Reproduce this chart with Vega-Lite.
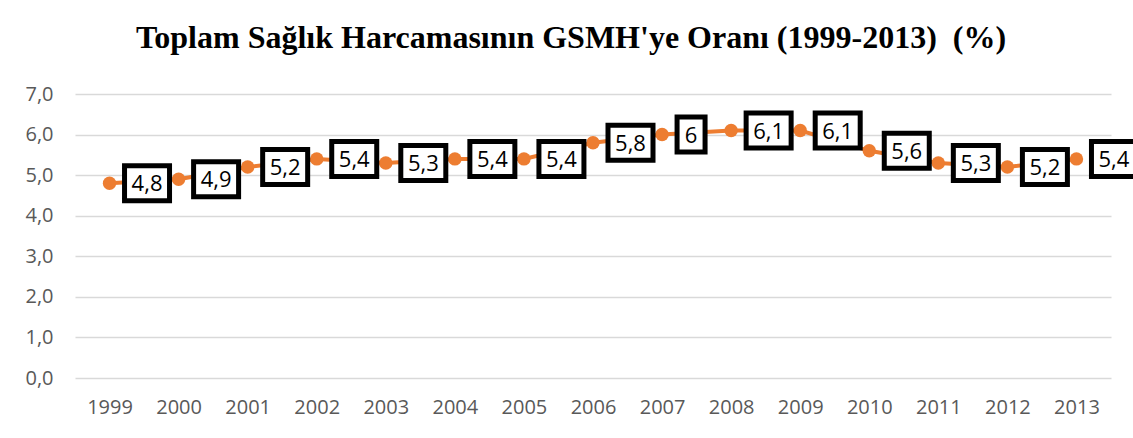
{
  "$schema": "https://vega.github.io/schema/vega-lite/v6.json",
  "width": 1036,
  "height": 284,
  "autosize": {"type": "none"},
  "padding": {"left": 75, "top": 94, "right": 22, "bottom": 60},
  "background": "white",
  "config": {
    "view": {"stroke": null},
    "locale": {"number": {"decimal": ",", "thousands": ".", "grouping": [3], "currency": ["", ""]}}
  },
  "title": {
    "text": "Toplam Sağlık Harcamasının GSMH'ye Oranı (1999-2013)\u00a0 (%)",
    "font": "Liberation Serif",
    "fontSize": 32,
    "fontWeight": "bold",
    "color": "#000000",
    "anchor": "middle",
    "frame": "group",
    "baseline": "alphabetic",
    "dx": -22,
    "offset": 4
  },
  "data": {
    "values": [
      {"year": "1999", "value": 4.8},
      {"year": "2000", "value": 4.9},
      {"year": "2001", "value": 5.2},
      {"year": "2002", "value": 5.4},
      {"year": "2003", "value": 5.3},
      {"year": "2004", "value": 5.4},
      {"year": "2005", "value": 5.4},
      {"year": "2006", "value": 5.8},
      {"year": "2007", "value": 6.0},
      {"year": "2008", "value": 6.1},
      {"year": "2009", "value": 6.1},
      {"year": "2010", "value": 5.6},
      {"year": "2011", "value": 5.3},
      {"year": "2012", "value": 5.2},
      {"year": "2013", "value": 5.4}
    ]
  },
  "encoding": {
    "x": {
      "field": "year",
      "type": "ordinal",
      "scale": {"type": "point", "padding": 0.5},
      "axis": {
        "title": null,
        "labelAngle": 0,
        "domain": false,
        "ticks": false,
        "labelFont": "Open Sans",
        "labelFontSize": 20,
        "labelColor": "#595959",
        "labelPadding": 19
      }
    },
    "y": {
      "field": "value",
      "type": "quantitative",
      "scale": {"domain": [0, 7], "nice": false},
      "axis": {
        "title": null,
        "values": [0, 1, 2, 3, 4, 5, 6, 7],
        "format": ".1f",
        "domain": false,
        "ticks": false,
        "grid": true,
        "gridColor": "#D9D9D9",
        "gridWidth": 1.5,
        "labelFont": "Open Sans",
        "labelFontSize": 20,
        "labelColor": "#595959",
        "labelPadding": 22
      }
    }
  },
  "layer": [
    {"mark": {"type": "line", "color": "#ED7D31", "strokeWidth": 4}},
    {"mark": {"type": "circle", "color": "#ED7D31", "opacity": 1, "size": 180}},
    {
      "transform": [{"filter": "datum.value != 6"}],
      "mark": {"type": "rect", "width": 45, "height": 35, "xOffset": 37.5, "fill": "white", "stroke": "black", "strokeWidth": 5}
    },
    {
      "transform": [{"filter": "datum.value == 6"}],
      "mark": {"type": "rect", "width": 28, "height": 35, "xOffset": 29, "fill": "white", "stroke": "black", "strokeWidth": 5}
    },
    {
      "transform": [{"filter": "datum.value != 6"}],
      "mark": {"type": "text", "font": "Open Sans", "fontSize": 22, "color": "#000000", "align": "center", "baseline": "middle", "dx": 37.5, "dy": 1},
      "encoding": {"text": {"field": "value", "format": ".1~f"}}
    },
    {
      "transform": [{"filter": "datum.value == 6"}],
      "mark": {"type": "text", "font": "Open Sans", "fontSize": 22, "color": "#000000", "align": "center", "baseline": "middle", "dx": 29, "dy": 1},
      "encoding": {"text": {"field": "value", "format": ".1~f"}}
    }
  ]
}
